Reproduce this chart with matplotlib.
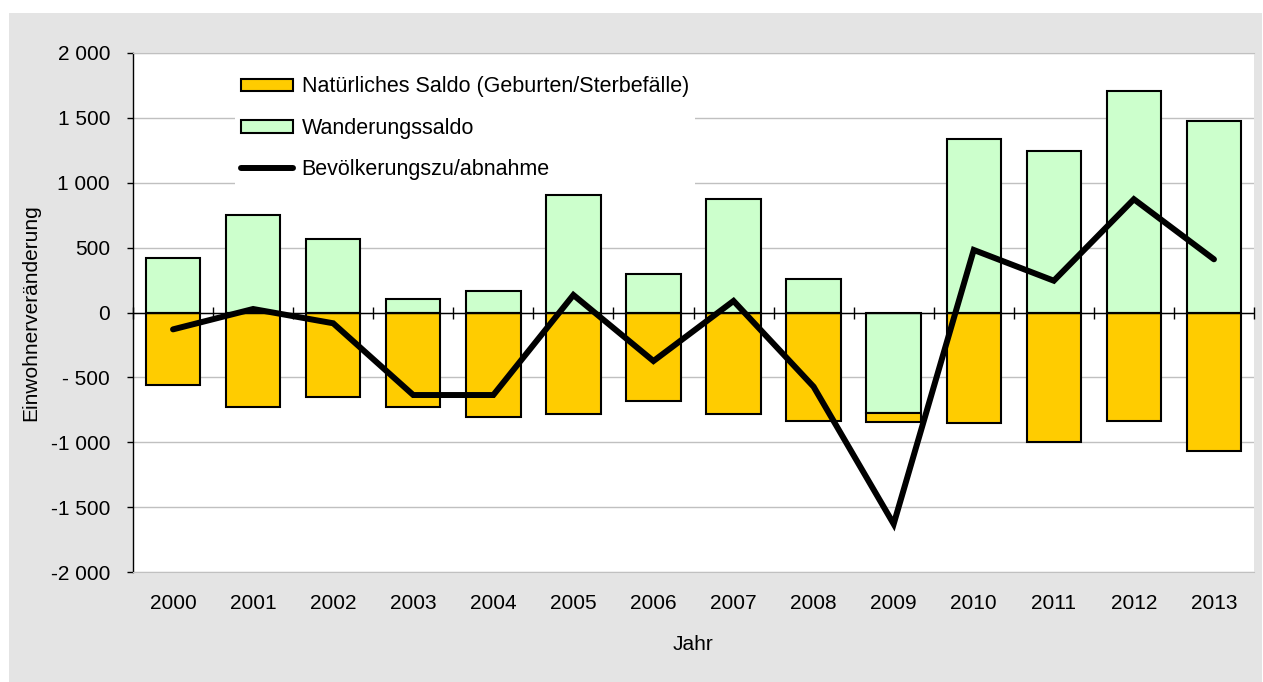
import numpy as np
import matplotlib
matplotlib.use("Agg")
import matplotlib.pyplot as plt
from matplotlib.patches import Patch, Rectangle
from matplotlib.lines import Line2D

plt.rcParams['font.family'] = ['Liberation Sans', 'DejaVu Sans']

# data
years = ['2000', '2001', '2002', '2003', '2004', '2005', '2006',
         '2007', '2008', '2009', '2010', '2011', '2012', '2013']
natural = [-561, -731, -654, -731, -808, -780, -685, -780, -839, -65, -854, -996, -837, -1068]
migration = [422, 752, 564, 102, 163, 906, 299, 873, 258, -777, 1335, 1245, 1705, 1474]
total = [-130, 27, -83, -636, -636, 135, -374, 89, -572, -1630, 482, 245, 873, 410]
ytick_vals = [2000, 1500, 1000, 500, 0, -500, -1000, -1500, -2000]
ytick_labels = ['2 000', '1 500', '1 000', '500', '0', '- 500', '-1 000', '-1 500', '-2 000']

orange = '#FFCC00'
green = '#CCFFCC'
grid_grey = '#c0c0c0'

W, H = 1263, 682
fig = plt.figure(figsize=(W / 100, H / 100), dpi=100)
fig.patch.set_facecolor('white')
# grey chart background
fig.patches.append(Rectangle((9 / W, 0), (1262 - 9) / W, (H - 13) / H,
                             transform=fig.transFigure, facecolor='#e4e4e4',
                             edgecolor='none', zorder=-10))

ax = fig.add_axes([133 / W, (H - 572) / H, (1254 - 133) / W, (572 - 53) / H])
ax.set_zorder(1)
ax.set_facecolor('white')

x = np.arange(len(years))
nat = np.array(natural)
mig = np.array(migration)
# stack natural below migration when both are negative
nat_bottom = np.where((nat < 0) & (mig < 0), mig, 0)

bw = 0.68
ax.bar(x, mig, bw, color=green, edgecolor='black', linewidth=1.5, zorder=2)
ax.bar(x, nat, bw, bottom=nat_bottom, color=orange, edgecolor='black', linewidth=1.5, zorder=2)
ax.plot(x, total, color='black', linewidth=4.3, solid_capstyle='round',
        solid_joinstyle='miter', zorder=4)

# zero line with category separators
ax.axhline(0, color='black', linewidth=1, zorder=3)
sep = np.arange(len(years) + 1) - 0.5
ax.plot(sep, np.zeros(len(sep)), linestyle='none', marker='|', markersize=8.5,
        markeredgewidth=1, color='black', zorder=3, clip_on=False)

ax.set_xlim(-0.5, len(years) - 0.5)
ax.set_ylim(-2000, 2000)
ax.set_yticks(ytick_vals)
ax.set_yticklabels(ytick_labels)
ax.set_xticks(x)
ax.set_xticklabels(years)
ax.tick_params(axis='x', length=0, pad=16, labelsize=15)
ax.tick_params(axis='y', length=4.5, width=1, direction='out', pad=12, labelsize=15)

ax.yaxis.grid(True, color=grid_grey, linewidth=1)
ax.set_axisbelow(True)
ax.spines['right'].set_visible(False)
ax.spines['top'].set_color(grid_grey)
ax.spines['bottom'].set_color(grid_grey)
ax.spines['left'].set_linewidth(1)

fig.text(31 / W, 1 - 312.5 / H, 'Einwohnerveränderung', rotation=90,
         ha='center', va='center', fontsize=15)
fig.text(693 / W, 1 - 645 / H, 'Jahr', ha='center', va='center', fontsize=15)

handles = [
    Patch(facecolor=orange, edgecolor='black', linewidth=1.5),
    Patch(facecolor=green, edgecolor='black', linewidth=1.5),
    Line2D([0], [0], color='black', linewidth=4.3, solid_capstyle='round'),
]
labels = ['Natürliches Saldo (Geburten/Sterbefälle)', 'Wanderungssaldo', 'Bevölkerungszu/abnahme']
leg = ax.legend(handles, labels, loc='upper left', bbox_to_anchor=(235 / W, 1 - 70 / H),
                bbox_transform=fig.transFigure, fontsize=15.5, frameon=True,
                facecolor='white', edgecolor='none', framealpha=1, fancybox=False,
                handlelength=2.4, handleheight=0.52, handletextpad=0.4,
                labelspacing=0.95, borderpad=0.3, borderaxespad=0)
leg.set_zorder(5)

fig.savefig('out.png', dpi=100, facecolor=fig.get_facecolor())
